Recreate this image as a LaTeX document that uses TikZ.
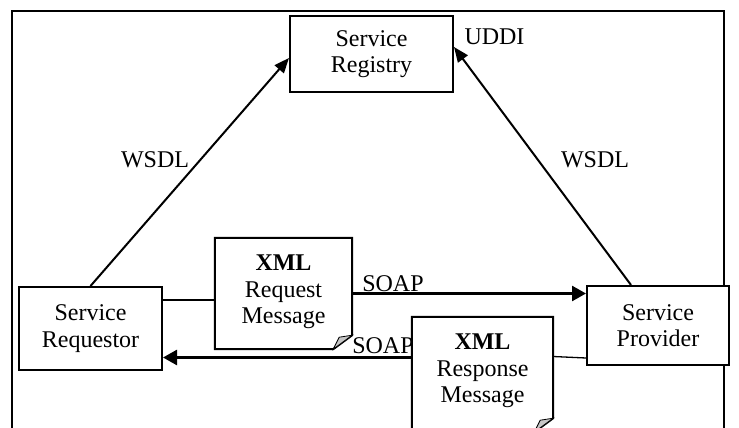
\documentclass[tikz,border=0pt]{standalone}
\usepackage{fontspec}
\setmainfont{Liberation Serif}
\usetikzlibrary{arrows.meta,calc}

% page with a folded bottom right corner
\newcommand{\foldedpage}[1]{%
\draw [black,line width=2pt,fill=white] (#1.north west) -- (#1.north east)
  -- ([yshift=14pt]#1.south east) -- ([xshift=-19pt]#1.south east)
  -- (#1.south west) -- cycle;
\draw [black,line width=0.8pt,fill=gray!45] ([yshift=14pt]#1.south east)
  -- ([xshift=-19pt]#1.south east) -- ([xshift=-13pt,yshift=12pt]#1.south east) -- cycle;
}

\begin{document}
\begin{tikzpicture}[x=1pt,y=-1pt]
\tikzstyle{every node}+=[inner sep=0pt,font=\fontsize{24}{26.5}\selectfont]
\tikzset{
  svcbox/.style={draw=black,line width=2pt,fill=white,align=center},
  page/.style={minimum width=#1},
  wsdl/.style={black,line width=2pt,-{Triangle[length=15pt,width=12pt]}},
  soap/.style={black,line width=2.6pt,-{Triangle[length=14pt,width=15pt]}},
  link/.style={black,line width=1.3pt}
}
\useasboundingbox (0,0) rectangle (739,428);
\clip (0,0) rectangle (739,428);
\fill [white] (0,0) rectangle (739,428);
\draw [black,line width=2.2pt] (12,11) rectangle (724,450);
% services
\node (reg) [svcbox,minimum width=163pt,minimum height=76pt] at (371.5,54) {Service\\Registry};
\node (req) [svcbox,minimum width=143pt,minimum height=83pt] at (90.5,328.5) {Service\\Requestor};
\node (prov) [svcbox,minimum width=142pt,minimum height=79pt] at (658,325.5) {Service\\Provider};
% messages
\node (rqdoc) [page=137pt,minimum height=111pt] at (283.5,293.5) {};
\node (rsdoc) [page=141pt,minimum height=115pt] at (482.5,374.5) {};
% connectors
\draw [wsdl] (req.north) -- ([yshift=-4pt]reg.west);
\draw [wsdl] ([xshift=-27pt]prov.north) -- ([yshift=7pt]reg.east);
\draw [soap] (rqdoc.east) -- (rqdoc.east -| prov.west);
\coordinate (rsout) at ([yshift=17pt]rsdoc.west);
\draw [soap] (rsout) -- (rsout -| req.east);
\coordinate (rqin) at ([yshift=-6.5pt]rqdoc.west);
\draw [link] (rqin -| req.east) -- (rqin);
\draw [link] ([yshift=18pt]rsdoc.east) -- ([yshift=-32.5pt]prov.west);
% labels
\node (wsdlL) at (155,160) {WSDL};
\node (wsdlR) at (595,160) {WSDL};
\node (uddi) at (494.5,37) {UDDI};
\node (soapT) at (393,284) {SOAP};
\node (soapB) at (383,346) {SOAP};
% message pages drawn over the labels
\foldedpage{rqdoc}
\node (rqtext) [anchor=north,align=center] at ([yshift=-17pt]rqdoc.north) {\textbf{XML}\\Request\\Message};
\foldedpage{rsdoc}
\node (rstext) [anchor=north,align=center] at ([yshift=-17pt]rsdoc.north) {\textbf{XML}\\Response\\Message};
\end{tikzpicture}
\end{document}
